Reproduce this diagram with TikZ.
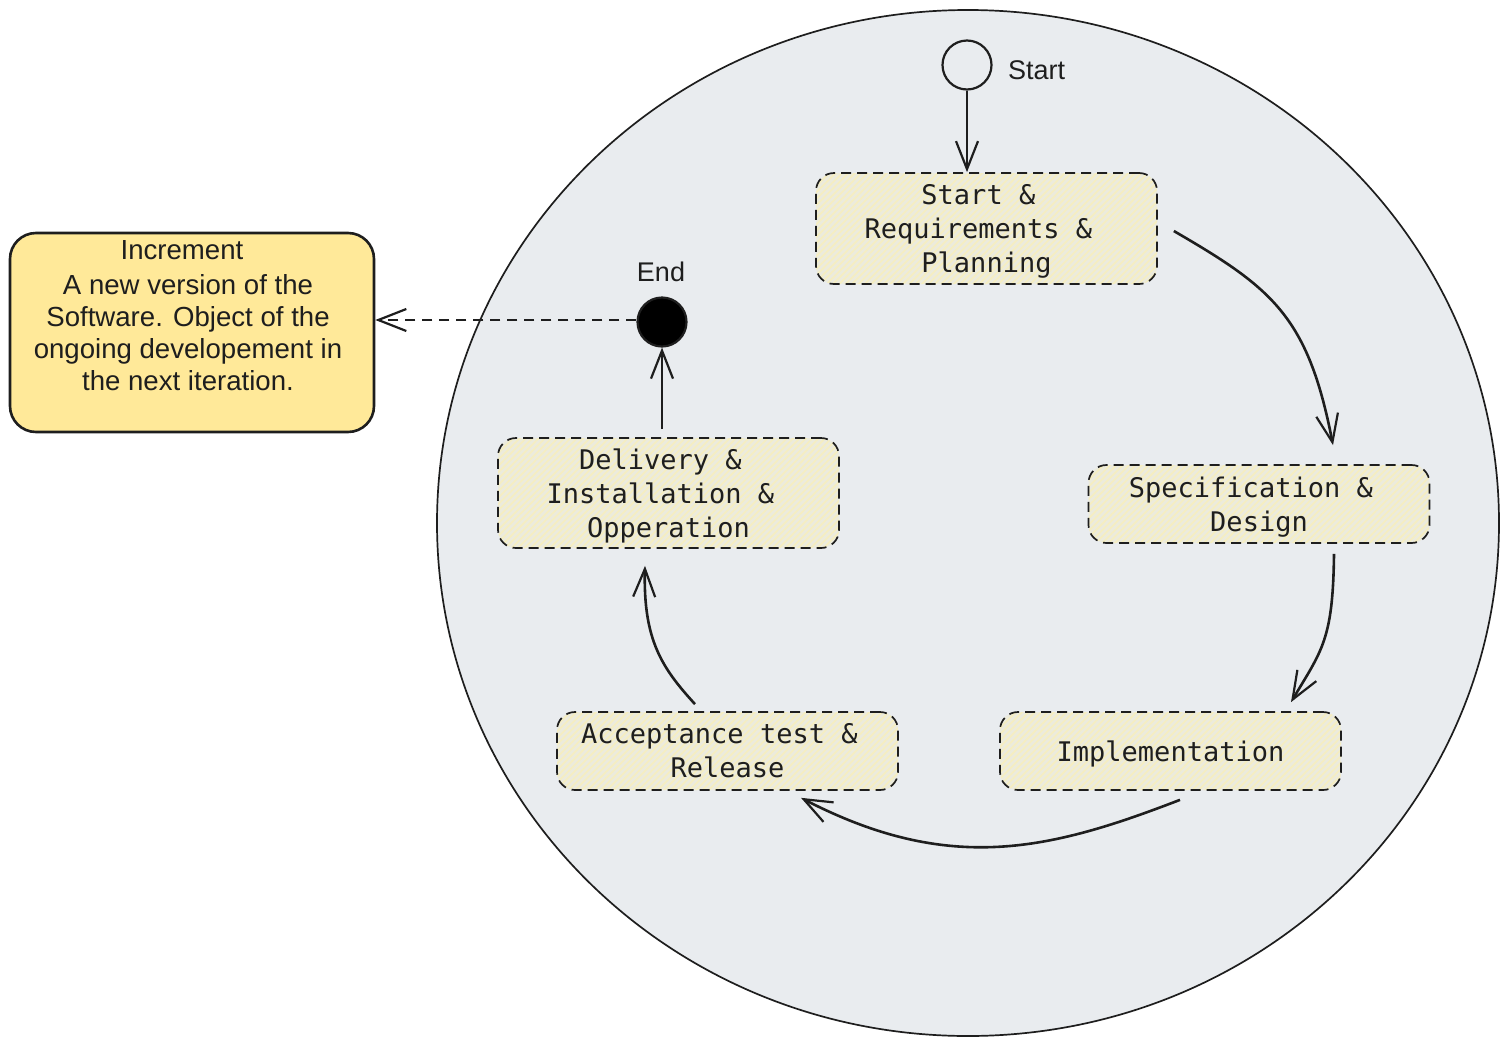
\documentclass[tikz,border=0pt]{standalone}
\usepackage{fontspec}
\setmainfont{Liberation Sans}
\setmonofont{DejaVu Sans Mono}
\usetikzlibrary{arrows.meta,patterns.meta}
\definecolor{ink}{HTML}{1E1E1E}
\definecolor{bg}{HTML}{E9ECEF}
\definecolor{boxfill}{HTML}{ECEBDC}
\definecolor{hatch}{HTML}{F6EEC0}
\definecolor{note}{HTML}{FFE999}
\begin{document}
\begin{tikzpicture}[x=1pt,y=-1pt,
  stage/.style={draw=ink, line width=1.7pt, dash pattern=on 10pt off 6pt,
    rounded corners=18pt,
    preaction={fill=boxfill},
    preaction={pattern={Lines[angle=45,distance=4.5pt,line width=1.6pt]}, pattern color=hatch},
    minimum width=341pt, inner sep=0pt,
    align=center, font=\ttfamily\fontsize{27}{34}\selectfont, text=ink},
  conn/.style={draw=ink, line width=2.6pt,
    -{Straight Barb[length=28pt,width=22pt,line width=2.2pt]}},
  lbl/.style={font=\fontsize{27}{32}\selectfont, text=ink, inner sep=0pt}
]
\useasboundingbox (0,0) rectangle (1508,1047);
% big circle
\draw[ink, line width=1.7pt, fill=bg] (968,523) ellipse [x radius=531, y radius=513];

% start / end
\node[circle, draw=ink, line width=2.2pt, minimum size=49pt, inner sep=0pt] (start) at (967,65) {};
\node[lbl, anchor=west] (startlbl) at (1008,70) {Start};
\node[circle, draw=ink, line width=2.2pt, fill=black, minimum size=49pt, inner sep=0pt] (end) at (662,322) {};
\node[lbl] (endlbl) at (661,272) {End};

% stages
\node[stage, minimum height=111pt] (b1) at (986.5,228.5)
  {\rule{0pt}{26pt}Start \&\hphantom{x}\\Requirements \&\hphantom{x}\\Planning};
\node[stage, minimum height=78pt] (b2) at (1259,504)
  {\rule{0pt}{26pt}Specification \&\hphantom{x}\\Design};
\node[stage, minimum height=78pt] (b3) at (1170.5,751) {\rule{0pt}{26pt}Implementation};
\node[stage, minimum height=78pt] (b4) at (727.5,751)
  {Acceptance test \&\hphantom{x}\\Release};
\node[stage, minimum height=110pt] (b5) at (668.5,493)
  {\rule{0pt}{26pt}Delivery \&\hphantom{x}\\Installation \&\hphantom{x}\\Opperation};

% increment note
\node[draw=ink, line width=2.6pt, fill=note, rounded corners=26pt,
  minimum width=364pt, minimum height=199pt, inner sep=0pt] (incr) at (192,332.5) {};
\node[lbl, align=center, font=\fontsize{27.6}{32}\selectfont] (incrtxt) at (188,316)
  {Increment\hspace*{12pt}\\[3pt]A new version of the\\Software. Object of the\\ongoing developement in\\the next iteration.};

% connectors
\draw[conn, line width=2.1pt] (start.south) -- (start.south |- b1.north);
\draw[conn] ([xshift=16pt,yshift=-2.5pt]b1.east)
  .. controls (1272,288) and (1308,316) .. ([xshift=74pt,yshift=19pt]b2.north);
\draw[conn] ([xshift=75pt,yshift=-10pt]b2.south)
  .. controls (1333,640) and (1322,650) .. ([xshift=120.5pt,yshift=9pt]b3.north);
\draw[conn] ([xshift=9.5pt,yshift=-9pt]b3.south)
  .. controls (1050,850) and (950,875) .. ([xshift=73.5pt,yshift=-7pt]b4.south);
\draw[conn] ([xshift=-32.5pt,yshift=7pt]b4.north)
  .. controls (662,668) and (643,640) .. ([xshift=-23.5pt,yshift=-17pt]b5.south);
\draw[conn, line width=2.1pt, shorten <=8pt] (end.south |- b5.north) -- (end.south);
\draw[conn, line width=2.1pt, dash pattern=on 10pt off 7pt] ([yshift=2pt]end.west) -- ([yshift=2pt]end.west -| incr.east);
\end{tikzpicture}
\end{document}
